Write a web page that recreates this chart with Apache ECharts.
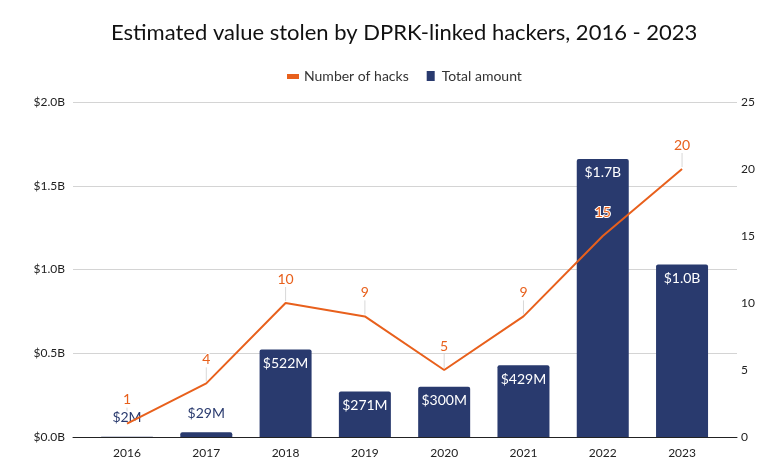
<!DOCTYPE html>
<html>
<head>
<meta charset="utf-8">
<script src="https://cdn.jsdelivr.net/npm/echarts@6/dist/echarts.min.js"></script>
<style>
  html, body { margin: 0; padding: 0; background: #fff; }
  #chart { width: 771px; height: 469px; }
</style>
</head>
<body>
<div id="chart"></div>
<script>
// data
const years = ['2016', '2017', '2018', '2019', '2020', '2021', '2022', '2023'];
const amountM = [2, 29, 522, 271, 300, 429, 1660, 1030];   // millions USD
const hacks = [1, 4, 10, 9, 5, 9, 15, 20];
const leftTicks = [0, 500, 1000, 1500, 2000];

const navy = '#293a6e';
const orange = '#e8601c';

const myChart = echarts.init(document.getElementById('chart'));

function money(v) {
  return v < 1000 ? '$' + v + 'M' : '$' + (v / 1000).toFixed(1) + 'B';
}

const option = {
  animation: false,
  textStyle: { fontFamily: 'Lato, "Noto Sans", sans-serif' },
  title: {
    text: 'Estimated value stolen by DPRK-linked hackers, 2016 - 2023',
    left: 106,
    top: 17,
    textStyle: { fontSize: 22, fontWeight: 'normal', color: '#111' }
  },
  legend: {
    top: 64,
    left: 282,
    itemGap: 16,
    itemWidth: 12,
    itemHeight: 12,
    textStyle: { fontSize: 14, color: '#333' },
    data: [
      {
        name: 'Number of hacks',
        icon: 'path://M0,0M0,4h12v5h-12zM12,12',
        itemStyle: { color: orange },
        lineStyle: { color: orange, width: 4 }
      },
      { name: 'Total amount', icon: 'path://M0,0M2,1h8v10h-8zM12,12' }
    ]
  },
  grid: { left: 73, right: 34, top: 102, bottom: 32 },
  xAxis: {
    type: 'value',
    min: -0.681,
    max: 7.693,
    splitLine: { show: false },
    axisLine: { show: true, onZero: false, lineStyle: { color: '#222' } },
    axisTick: { show: false },
    axisLabel: {
      customValues: years.map((y, i) => i),
      formatter: v => years[v],
      color: '#222',
      fontSize: 12,
      margin: 10
    }
  },
  yAxis: [
    {
      type: 'value',
      min: leftTicks[0],
      max: leftTicks[leftTicks.length - 1],
      interval: 500,
      axisLine: { show: false },
      axisTick: { show: false },
      splitLine: { lineStyle: { color: '#d4d4d4' } },
      axisLabel: {
        formatter: v => '$' + (v / 1000).toFixed(1) + 'B',
        color: '#222',
        fontSize: 12,
        margin: 8
      }
    },
    {
      type: 'value',
      min: 0,
      max: 25,
      interval: 5,
      position: 'right',
      axisLine: { show: false },
      axisTick: { show: false },
      splitLine: { show: false },
      axisLabel: { color: '#222', fontSize: 12, margin: 4 }
    }
  ],
  series: [
    {
      name: 'Total amount',
      type: 'bar',
      yAxisIndex: 0,
      barWidth: 52,
      itemStyle: { color: navy, borderRadius: [2, 2, 0, 0] },
      data: amountM.map((v, i) => ({
        value: [i, v],
        label: v < 100
          ? { position: 'top', color: navy, distance: v < 10 ? 12 : 12, textBorderColor: '#fff', textBorderWidth: 3 }
          : { position: 'insideTop', color: '#fff', distance: 7 }
      })),
      label: {
        show: true,
        fontSize: 14,
        formatter: p => money(p.value[1])
      },
      z: 2
    },
    {
      // thin leader lines between each hack count label and its point
      name: 'leaders',
      type: 'custom',
      yAxisIndex: 1,
      silent: true,
      data: hacks.map((v, i) => [i, v]),
      renderItem: (params, api) => {
        const p = api.coord([api.value(0), api.value(1)]);
        return {
          type: 'line',
          shape: { x1: p[0], y1: p[1] - 2, x2: p[0], y2: p[1] - 16 },
          style: { stroke: '#d8d8d8', lineWidth: 1 }
        };
      },
      z: 2
    },
    {
      name: 'Number of hacks',
      type: 'line',
      yAxisIndex: 1,
      symbol: 'circle',
      symbolSize: 0,
      lineStyle: { color: orange, width: 2 },
      itemStyle: { color: orange },
      data: hacks.map((v, i) => [i, v]),
      label: {
        show: true,
        position: 'top',
        distance: 17,
        color: orange,
        fontSize: 14,
        textBorderColor: '#fff',
        textBorderWidth: 2,
        formatter: p => p.value[1]
      },
      z: 3
    }
  ]
};

myChart.setOption(option);
</script>
</body>
</html>
